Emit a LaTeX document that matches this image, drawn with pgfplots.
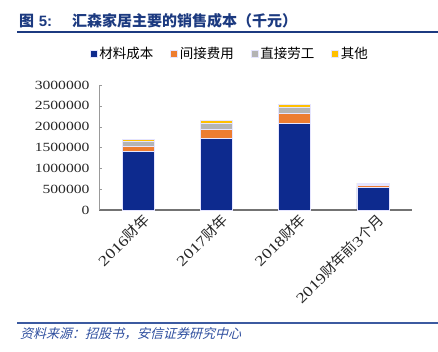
\documentclass[border=0pt]{standalone}
\usepackage{fontspec}
\usepackage{pgfplots}
\pgfplotsset{compat=1.18}
\setmainfont{Liberation Serif}[FakeStretch=1.25]
\newfontfamily\cjk{Noto Sans CJK SC}
\newfontfamily\cjkit{Noto Sans CJK SC}[FakeSlant=0.25]
\newfontfamily\sans{Liberation Sans}
\definecolor{cblue}{HTML}{0D2A8E}
\definecolor{corange}{HTML}{ED7D31}
\definecolor{cgray}{HTML}{B4B4B4}
\definecolor{cyellow}{HTML}{FFC000}
\definecolor{titleblue}{HTML}{1C3A80}
\definecolor{srcblue}{HTML}{2F4F9F}
\definecolor{lineblue}{HTML}{3C5AA0}
\begin{document}
\begin{tikzpicture}
\path[use as bounding box] (0,0) rectangle (438bp,-352bp);
% title
\draw[titleblue, line width=1.3bp] (17bp,-32bp) -- (438bp,-32bp);
\node[anchor=west, text=titleblue, inner sep=0pt] at (19bp,-21bp) {\fontsize{15bp}{18bp}\selectfont{\cjk\bfseries 图} {\sans\bfseries 5:}};
\node[anchor=west, text=titleblue, inner sep=0pt] at (72bp,-21bp) {\fontsize{15bp}{18bp}\selectfont\cjk\bfseries 汇森家居主要的销售成本（千元）};
% source
\draw[lineblue, line width=1.3bp] (17bp,-323bp) -- (438bp,-323bp);
\node[anchor=west, text=srcblue, inner sep=0pt] at (20bp,-334bp) {\fontsize{13bp}{15bp}\selectfont\cjkit 资料来源：招股书，安信证券研究中心};
\begin{axis}[
  at={(99bp,-210bp)}, anchor=south west,
  scale only axis, width=313bp, height=125bp,
  xmin=-0.5, xmax=3.5, ymin=0, ymax=3000000,
  ybar stacked, bar width=32bp,
  axis lines*=left,
  x axis line style={draw=black!55, line width=1.1bp},
  y axis line style={draw=black!40, line width=0.6bp},
  ytick={0,500000,...,3000000},
  scaled y ticks=false,
  /pgf/number format/fixed,
  /pgf/number format/1000 sep={},
  /pgf/number format/assume math mode=true,
  yticklabel style={font=\fontsize{12.5bp}{14bp}\selectfont, text=black!85, xshift=-6bp},
  ytick style={draw=black!40},
  tick align=inside,
  major tick length=3bp,
  xtick={0,1,2,3},
  xtick style={draw=none},
  xticklabels={{2016\cjk 财年},{2017\cjk 财年},{2018\cjk 财年},{2019\cjk 财年前}3{\cjk 个月}},
  xticklabel style={font=\fontsize{14.5bp}{16bp}\selectfont, text=black!85, rotate=45, anchor=east, inner sep=1bp, yshift=-11bp, xshift=2bp},
  legend style={at={(axis description cs:0.418,1.248)}, anchor=center, draw=none, fill=none,
     font=\fontsize{13.5bp}{15bp}\selectfont\cjk, legend columns=4,
     /tikz/every even column/.append style={column sep=15bp}},
  legend image code/.code={\fill[#1] (0bp,-3.5bp) rectangle (7bp,3.5bp);},
  every axis plot/.append style={draw=blue!10!white, line width=0.5bp},
]
\addplot[fill=cblue] coordinates {(0,1400000) (1,1712000) (2,2072000) (3,536000)};
\addplot[fill=corange] coordinates {(0,136000) (1,232000) (2,256000) (3,48000)};
\addplot[fill=cgray] coordinates {(0,104000) (1,128000) (2,144000) (3,40000)};
\addplot[fill=cyellow] coordinates {(0,56000) (1,80000) (2,64000) (3,24000)};
\legend{材料成本,间接费用,直接劳工,其他}
\end{axis}
\end{tikzpicture}
\end{document}
